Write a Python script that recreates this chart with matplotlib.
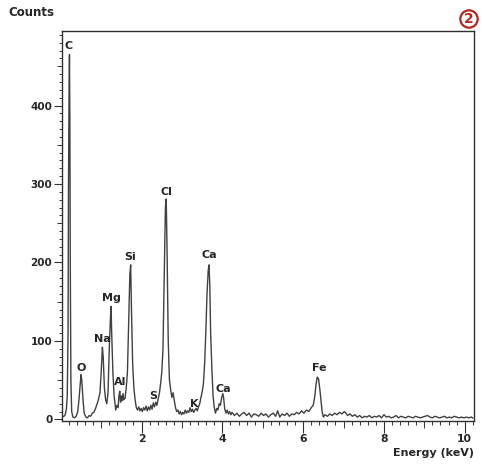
import numpy as np
import matplotlib
matplotlib.use("Agg")
import matplotlib.pyplot as plt
from matplotlib.ticker import MultipleLocator, FixedLocator

plt.rcParams['font.family'] = ['DejaVu Sans']

# EDS spectrum (energy in keV, counts)
energy = [0.05, 0.08, 0.11, 0.14, 0.16, 0.18, 0.19, 0.205, 0.215, 0.225, 0.235, 0.25, 0.27, 0.30, 0.34,
          0.38, 0.42, 0.45, 0.48, 0.50, 0.52, 0.55, 0.58, 0.62, 0.66, 0.70, 0.74, 0.78, 0.82, 0.86, 0.90, 0.93,
          0.97, 1.00, 1.03, 1.05, 1.08, 1.11, 1.14, 1.17, 1.20, 1.23, 1.245, 1.26, 1.29, 1.32, 1.36, 1.39,
          1.42, 1.44, 1.46, 1.48, 1.50, 1.52, 1.54, 1.56, 1.59, 1.62, 1.65, 1.68, 1.71, 1.73, 1.75, 1.78,
          1.81, 1.84, 1.87, 1.90, 1.93, 1.96, 1.99, 2.02, 2.05, 2.08, 2.11, 2.14, 2.17, 2.20, 2.23, 2.26,
          2.29, 2.32, 2.35, 2.38, 2.41, 2.44, 2.47, 2.50, 2.53, 2.56, 2.59, 2.61, 2.63, 2.66, 2.69, 2.72,
          2.75, 2.78, 2.81, 2.84, 2.87, 2.90, 2.93, 2.96, 2.99, 3.02, 3.05, 3.08, 3.11, 3.14, 3.17, 3.20,
          3.23, 3.26, 3.29, 3.32, 3.35, 3.38, 3.41, 3.44, 3.47, 3.50, 3.53, 3.56, 3.59, 3.62, 3.65, 3.67,
          3.69, 3.71, 3.74, 3.77, 3.80, 3.83, 3.86, 3.89, 3.92, 3.95, 3.98, 4.01, 4.03, 4.06, 4.09, 4.12,
          4.15, 4.18, 4.21, 4.24, 4.30, 4.36, 4.42, 4.48, 4.54, 4.60, 4.66, 4.72, 4.78, 4.84, 4.90, 4.96,
          5.02, 5.08, 5.14, 5.20, 5.26, 5.32, 5.37, 5.42, 5.48, 5.54, 5.60, 5.66, 5.72, 5.78, 5.84, 5.90,
          5.96, 6.02, 6.08, 6.14, 6.20, 6.25, 6.29, 6.32, 6.35, 6.38, 6.41, 6.44, 6.47, 6.50, 6.54, 6.60,
          6.66, 6.72, 6.78, 6.84, 6.90, 6.96, 7.02, 7.06, 7.10, 7.16, 7.22, 7.28, 7.34, 7.40, 7.46, 7.52,
          7.58, 7.64, 7.70, 7.76, 7.82, 7.88, 7.94, 8.00, 8.06, 8.12, 8.18, 8.24, 8.30, 8.36, 8.42, 8.48,
          8.54, 8.60, 8.66, 8.72, 8.78, 8.84, 8.90, 8.96, 9.02, 9.08, 9.14, 9.20, 9.26, 9.32, 9.38, 9.44,
          9.50, 9.56, 9.62, 9.68, 9.74, 9.80, 9.86, 9.92, 9.98, 10.04, 10.10, 10.16, 10.20]
counts = [4, 4, 6, 14, 30, 110, 290, 420, 465, 380, 200, 50, 10, 3, 2,
          4, 10, 25, 45, 57, 50, 25, 8, 3, 2, 5, 4, 8, 9, 14, 20, 25,
          34, 60, 92, 80, 40, 25, 20, 35, 90, 130, 144, 110, 60, 30, 12, 18,
          15, 30, 36, 22, 30, 24, 33, 25, 27, 40, 60, 120, 185, 197, 140, 70,
          40, 25, 15, 12, 16, 11, 14, 10, 15, 12, 17, 11, 16, 12, 18, 13,
          21, 16, 22, 18, 26, 33, 45, 60, 90, 180, 270, 281, 220, 100, 50, 38,
          28, 34, 24, 15, 10, 12, 7, 10, 6, 9, 7, 12, 8, 11, 9, 15,
          10, 13, 9, 12, 14, 11, 16, 20, 28, 35, 45, 70, 110, 160, 190, 197,
          170, 110, 65, 30, 15, 8, 14, 12, 20, 18, 27, 33, 28, 13, 8, 12,
          7, 10, 6, 9, 5, 8, 4, 7, 9, 5, 8, 3, 7, 6, 4, 8,
          5, 7, 3, 6, 8, 4, 11, 3, 7, 5, 8, 4, 7, 6, 9, 7,
          11, 8, 12, 10, 15, 18, 30, 45, 54, 52, 40, 25, 10, 3, 6, 4,
          7, 5, 8, 6, 9, 7, 10, 8, 5, 7, 4, 6, 3, 5, 2, 4,
          3, 5, 2, 4, 3, 5, 2, 6, 3, 4, 2, 3, 5, 2, 4, 3,
          2, 4, 3, 2, 4, 3, 2, 3, 4, 5, 3, 2, 4, 3, 2, 3,
          4, 2, 3, 2, 4, 3, 2, 3, 2, 3, 2, 3, 2]

# peak labels: element, peak energy, peak height
peak_names = ['C', 'O', 'Na', 'Mg', 'Al', 'Si', 'S', 'Cl', 'K', 'Ca', 'Ca', 'Fe']
peak_energy = [0.19, 0.50, 1.02, 1.245, 1.47, 1.715, 2.28, 2.61, 3.30, 3.67, 4.02, 6.39]
peak_height = [465, 55, 92, 145, 38, 197, 20, 280, 10, 199, 28, 55]

ink = '#262626'

fig = plt.figure(figsize=(4.82, 4.73), dpi=100)
ax = fig.add_axes([62 / 482, 1 - 421 / 473, 412 / 482, 390 / 473])

ax.plot(energy, counts, color='#404040', lw=1.0)

for name, e, h in zip(peak_names, peak_energy, peak_height):
    ax.annotate(name, (e, h), xytext=(0, 5.8), textcoords='offset points',
                ha='center', va='center', fontsize=8, fontweight='bold', color=ink)

ax.set_xlim(0.03, 10.23)
ax.set_ylim(-2, 495)

for s in ax.spines.values():
    s.set_color('#303030')
    s.set_linewidth(1.0)

ax.xaxis.set_major_locator(FixedLocator([2, 4, 6, 8, 10]))
ax.xaxis.set_minor_locator(MultipleLocator(0.2))
ax.yaxis.set_major_locator(FixedLocator([0, 100, 200, 300, 400]))
ax.yaxis.set_minor_locator(MultipleLocator(10))

ax.tick_params(axis='x', which='major', direction='out', length=8.5, width=0.8, pad=1,
               labelsize=7.8, colors='#333333', labelcolor=ink)
ax.tick_params(axis='x', which='minor', direction='out', length=2.8, width=0.7, colors='#333333')
ax.tick_params(axis='y', which='major', direction='out', length=5.5, width=0.8, pad=1.5,
               labelsize=7.5, colors='#333333', labelcolor=ink)
ax.tick_params(axis='y', which='minor', direction='out', length=2.2, width=0.7, colors='#333333')
for lab in ax.get_xticklabels() + ax.get_yticklabels():
    lab.set_fontweight('bold')

# medium ticks at odd keV and at every 50 counts
xlocs = ax.xaxis.get_minorticklocs()
for t, loc in zip(ax.xaxis.get_minor_ticks(len(xlocs)), xlocs):
    if abs(loc - round(loc)) < 1e-6:
        t.tick1line.set_markersize(5)
ylocs = ax.yaxis.get_minorticklocs()
for t, loc in zip(ax.yaxis.get_minor_ticks(len(ylocs)), ylocs):
    if abs(loc % 50) < 1e-6 or abs(loc % 50 - 50) < 1e-6:
        t.tick1line.set_markersize(3.6)

ax.set_xlabel('Energy (keV)', loc='right', fontsize=8, fontweight='bold', color=ink, labelpad=3)
fig.text(8 / 482, 1 - 12 / 473, 'Counts', ha='left', va='center', fontsize=8.5,
         fontweight='bold', color=ink)
fig.text(469 / 482, 1 - 19 / 473, '2', ha='center', va='center', fontsize=10,
         fontweight='bold', color='#b3261e',
         bbox=dict(boxstyle='circle,pad=0.12', fc='none', ec='#b3261e', lw=1.6))

fig.savefig('out.png', dpi=100)
